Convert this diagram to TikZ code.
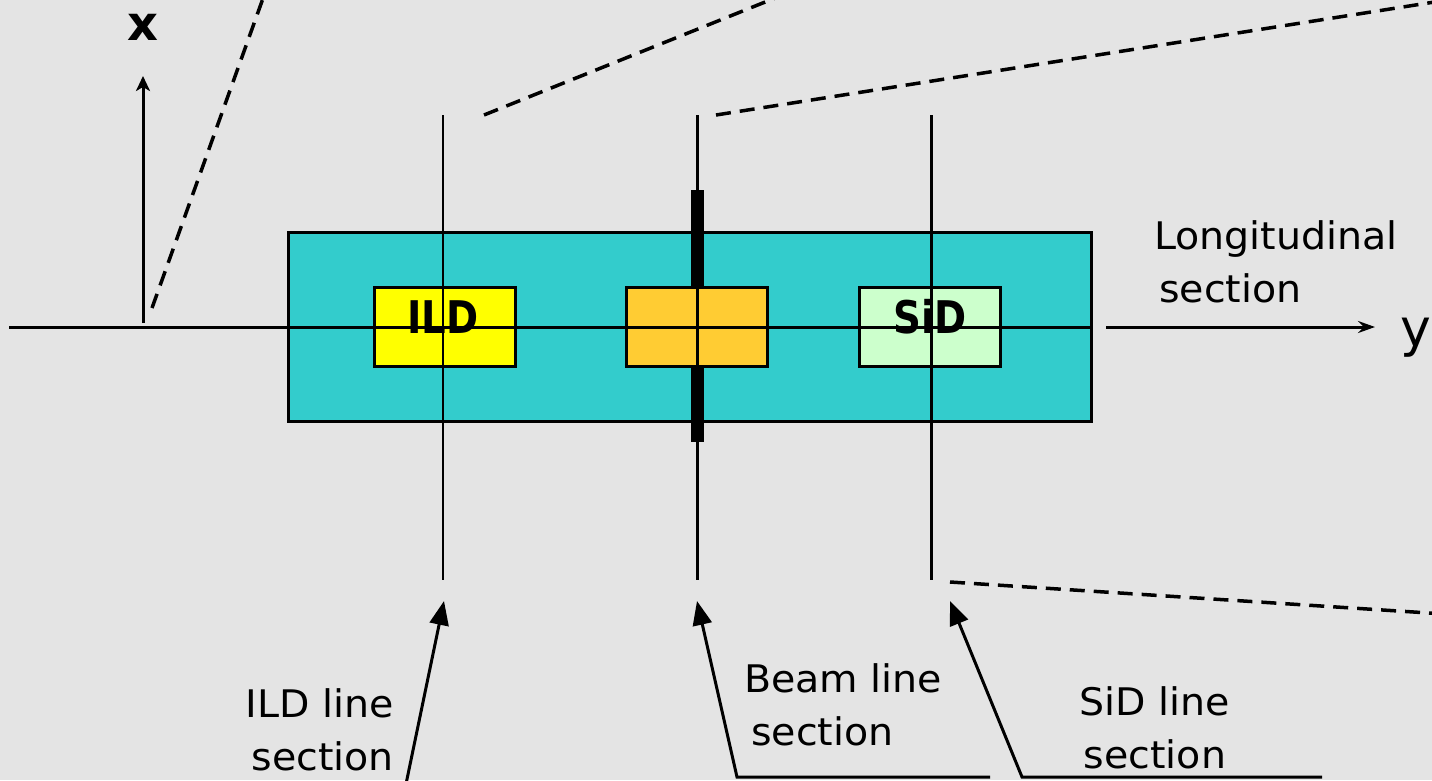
\documentclass[tikz,border=0pt]{standalone}
\usepackage{fontspec}
\setmainfont{DejaVu Sans}
\newfontfamily\lblfont[FakeStretch=1.04]{DejaVu Sans}
\newfontfamily\boxfont[FakeStretch=0.86]{DejaVu Sans}
\usetikzlibrary{arrows.meta}

\definecolor{paper}{HTML}{E4E4E4}
\definecolor{hallcyan}{HTML}{33CCCC}
\definecolor{ildyellow}{HTML}{FFFF00}
\definecolor{iporange}{HTML}{FFCC33}
\definecolor{sidgreen}{HTML}{CCFFCC}

\tikzset{
  hallbox/.style={draw=black, line width=3pt, fill=hallcyan, inner sep=0pt,
    minimum width=803pt, minimum height=189pt},
  detbox/.style={draw=black, line width=3pt, inner sep=0pt,
    minimum width=141pt, minimum height=79pt},
  boxlbl/.style={font=\boxfont\bfseries\fontsize{45}{45}\selectfont, inner sep=0pt},
  lbl/.style={font=\lblfont\fontsize{38}{53}\selectfont, inner sep=0pt},
  axislbl/.style={inner sep=0pt},
  secline/.style={line width=2.5pt},
  axisline/.style={line width=3pt},
  persp/.style={line width=3.5pt, dash pattern=on 15pt off 9pt},
  pointer/.style={line width=3pt, line join=miter, -{Triangle[length=24pt,width=19pt]}},
}

\begin{document}
\begin{tikzpicture}[x=1pt,y=-1pt]
\useasboundingbox (0,0) rectangle (1432,780);
\clip (0,0) rectangle (1432,780);
\fill[paper] (0,0) rectangle (1432,780);

% experimental hall seen from above
\node[hallbox] (hall) at (690,327) {};

% beam line shielding wall
\fill[black] (691,190) rectangle (695.5,442);
\fill[black] (697,190) rectangle (704,442);

% detectors and interaction region
\node[detbox, fill=ildyellow] (ild) at (445,327) {};
\node[detbox, fill=iporange] (ip) at (696.5,327) {};
\node[detbox, fill=sidgreen] (sid) at (930,327) {};
\node[boxlbl] (ildname) at (443,317) {ILD};
\node[boxlbl] (sidname) at (930,317) {SiD};

% transverse cut lines
\coordinate (ildTop) at (443,115);  \coordinate (ildBot) at (443,580);
\coordinate (ipTop)  at (697.5,115); \coordinate (ipBot)  at (697.5,580);
\coordinate (sidTop) at (931.5,115); \coordinate (sidBot) at (931.5,580);
\draw[secline] (ildTop) -- (ildBot);
\draw[secline] (ipTop) -- (ipBot);
\draw[secline] (sidTop) -- (sidBot);

% axes
\coordinate (yStart)  at (9,327);
\coordinate (yHall)   at (1093,327);
\coordinate (yResume) at (1106,327);
\coordinate (yTip)    at (1375,327);
\coordinate (xStart)  at (143,323);
\coordinate (xTip)    at (143,76);
\draw[axisline] (yStart) -- (yHall);
\draw[axisline, -{Stealth[length=17pt,width=12pt,inset=6pt]}] (yResume) -- (yTip);
\draw[axisline, -{Stealth[length=15pt,width=14pt,inset=4pt]}] (xStart) -- (xTip);
\node[axislbl, font=\bfseries\fontsize{48}{48}\selectfont] (xname) at (143,27) {x};
\node[axislbl, font=\fontsize{52}{52}\selectfont, anchor=base west] (yname) at (1400,346) {y};

% perspective guide lines
\coordinate (p1a) at (152,308);  \coordinate (p1b) at (266,-10);
\coordinate (p2a) at (484,115);  \coordinate (p2b) at (795,-10);
\coordinate (p3a) at (716,115);  \coordinate (p3b) at (1460,-2);
\coordinate (p4a) at (950,582);  \coordinate (p4b) at (1460,615);
\draw[persp] (p1a) -- (p1b);
\draw[persp] (p2a) -- (p2b);
\draw[persp] (p3a) -- (p3b);
\draw[persp] (p4a) -- (p4b);

% section labels (anchored on the baseline of their last line)
\node[lbl, align=left, anchor=base west] (longlbl) at (1154,302)
  {Longitudinal\\\hspace*{5pt}section};
\node[lbl, align=right, anchor=base east] (ildlbl) at (394,770)
  {ILD line\\section};
\node[lbl, align=left, anchor=base west] (beamlbl) at (744,745)
  {Beam line\\\hspace*{7pt}section};
\node[lbl, align=center, anchor=base] (sidlbl) at (1155,768)
  {SiD line\\section};

% pointers to the cut lines
\coordinate (ildFoot) at (406,784);
\coordinate (ildHead) at (444,601);
\coordinate (beamEnd) at (990,777);
\coordinate (beamKnee) at (737,777);
\coordinate (beamHead) at (697,601);
\coordinate (sidEnd) at (1322,777);
\coordinate (sidKnee) at (1022,777);
\coordinate (sidHead) at (950,601);
\draw[pointer] (ildFoot) -- (ildHead);
\draw[pointer] (beamEnd) -- (beamKnee) -- (beamHead);
\draw[pointer] (sidEnd) -- (sidKnee) -- (sidHead);
\end{tikzpicture}
\end{document}
